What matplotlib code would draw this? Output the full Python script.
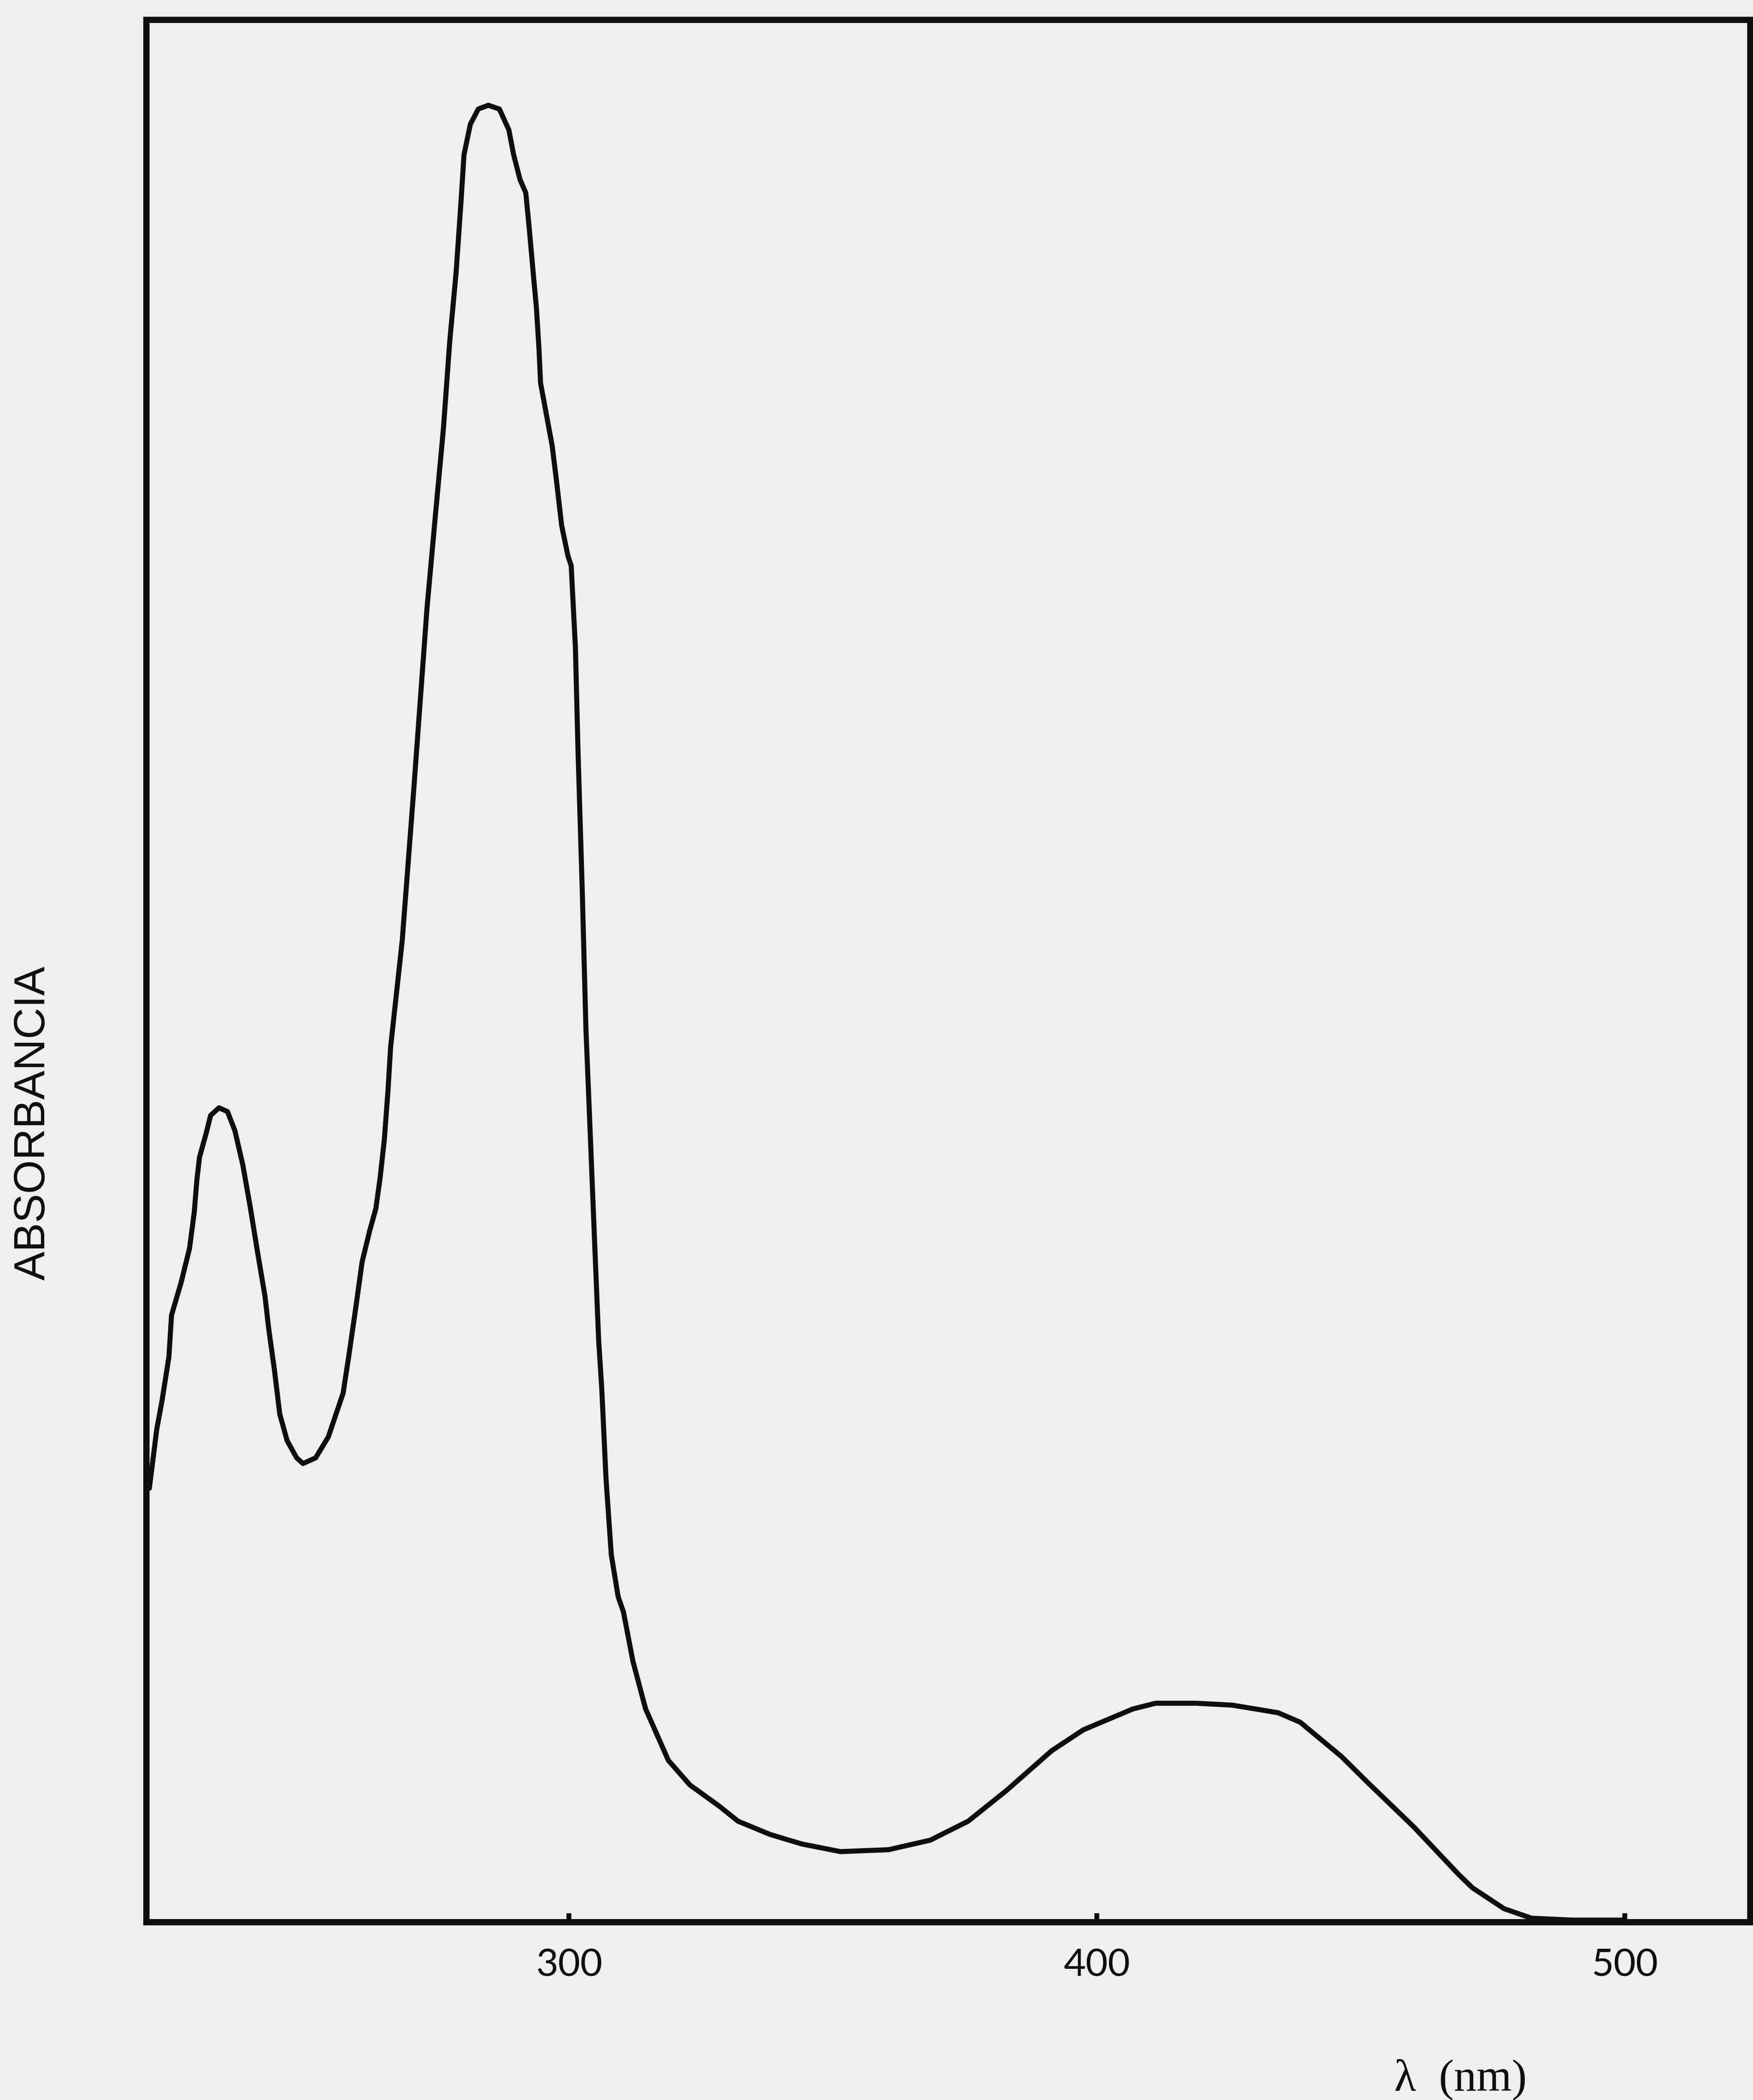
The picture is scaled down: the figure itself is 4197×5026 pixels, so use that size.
"""UV-Vis absorbance spectrum, redrawn from a scanned figure."""
import matplotlib
matplotlib.use("Agg")
import matplotlib.pyplot as plt

# wavelength (nm) and relative absorbance
wavelength = [
    220.5, 221.9, 222.9, 224.2, 224.7, 226.5, 228.1, 229.0, 229.5, 230.0,
    231.3, 232.1, 233.7, 235.3, 236.7, 238.2, 239.6, 241.0, 242.4, 243.1,
    244.2, 245.2, 246.6, 248.4, 249.6, 252.0, 254.4, 257.2, 258.3, 259.5,
    260.8, 262.2, 263.4, 264.2, 265.0, 265.7, 266.2, 268.4, 270.6, 273.1,
    274.7, 276.2, 277.4, 278.6, 279.5, 280.1, 281.3, 282.8, 284.7, 286.8,
    288.6, 289.5, 290.7, 291.8, 292.5, 293.3, 293.8, 294.3, 294.6, 295.6,
    296.8, 297.6, 298.6, 299.8, 300.4, 301.2, 301.7, 302.5, 303.2, 304.0,
    304.8, 305.6, 306.2, 307.0, 308.0, 309.3, 310.3, 312.1, 314.5, 318.8,
    322.9, 328.4, 332.0, 338.1, 344.1, 351.4, 360.5, 368.4, 375.6, 382.8,
    391.4, 397.4, 406.8, 411.1, 418.8, 425.6, 434.3, 438.5, 446.3, 451.4,
    460.0, 468.5, 471.1, 477.1, 482.3, 490.0, 499.5,
]
absorbance = [
    0.228, 0.259, 0.274, 0.297, 0.319, 0.336, 0.354, 0.373, 0.390, 0.402,
    0.415, 0.424, 0.428, 0.426, 0.416, 0.398, 0.376, 0.352, 0.329, 0.312,
    0.290, 0.267, 0.253, 0.244, 0.241, 0.244, 0.255, 0.278, 0.298, 0.321,
    0.347, 0.363, 0.375, 0.391, 0.411, 0.437, 0.460, 0.516, 0.596, 0.691,
    0.740, 0.785, 0.831, 0.867, 0.903, 0.929, 0.945, 0.953, 0.955, 0.953,
    0.942, 0.929, 0.916, 0.909, 0.889, 0.864, 0.849, 0.827, 0.809, 0.794,
    0.776, 0.758, 0.734, 0.718, 0.713, 0.670, 0.615, 0.542, 0.469, 0.415,
    0.360, 0.306, 0.280, 0.233, 0.193, 0.171, 0.163, 0.137, 0.112, 0.085,
    0.072, 0.061, 0.053, 0.046, 0.041, 0.037, 0.038, 0.043, 0.053, 0.069,
    0.090, 0.101, 0.112, 0.115, 0.115, 0.114, 0.110, 0.105, 0.087, 0.073,
    0.050, 0.025, 0.018, 0.007, 0.002, 0.001, 0.001,
]
x_ticks = [300, 400, 500]

paper = "#efefef"
ink = "#0e0e0e"

fig = plt.figure(figsize=(4197 / 300, 5026 / 300), dpi=300, facecolor=paper)
ax = fig.add_axes([350 / 4197, 1 - 4600 / 5026, 3840 / 4197, 4553 / 5026])
ax.set_facecolor(paper)

ax.plot(wavelength, absorbance, color=ink, lw=2.9, solid_capstyle="round",
        solid_joinstyle="round")

ax.set_xlim(219.9, 523.7)
ax.set_ylim(0, 1)

for side in ax.spines.values():
    side.set_color(ink)
    side.set_linewidth(3.6)

ax.set_xticks(x_ticks)
ax.set_xticklabels([str(t) for t in x_ticks], fontsize=22, family="Lato")
ax.tick_params(axis="x", direction="in", length=5, width=2.8, color=ink,
               pad=15, labelcolor=ink)
ax.set_yticks([])

ax.set_ylabel("ABSORBANCIA", fontsize=25, family="Liberation Sans", color=ink,
              va="center")
ax.yaxis.set_label_coords(-0.0703, 0.42)
ax.set_xlabel("λ  (nm)", fontsize=26, family="Liberation Serif", color=ink,
              va="top")
ax.xaxis.set_label_coords(0.8195, -0.072)

fig.savefig("out.png", dpi=300, facecolor=paper)
plt.close(fig)
